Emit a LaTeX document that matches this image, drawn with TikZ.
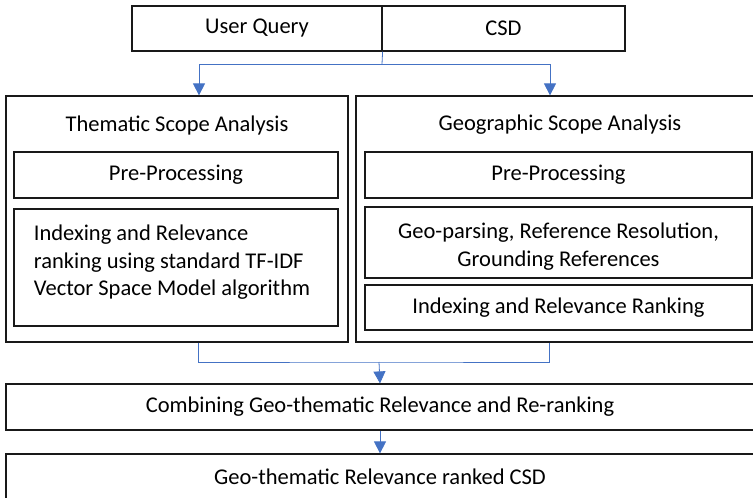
\documentclass[tikz,border=0pt]{standalone}
\usepackage{fontspec}
\usepackage{xcolor}
\setmainfont{Carlito}
\usetikzlibrary{arrows.meta}
\definecolor{flowblue}{RGB}{68,114,196}
\definecolor{edge}{RGB}{25,25,25}
\tikzstyle{box}=[rectangle, draw=edge, line width=1.2pt, inner sep=0pt, font=\fontsize{22.5}{27.5}\selectfont]
\tikzset{link/.style={draw=flowblue, line width=0.8pt}}
\tikzset{flow/.style={link, -{Triangle[length=12pt,width=12pt]}}}

\begin{document}
\begin{tikzpicture}[x=1pt,y=-1pt]
  \useasboundingbox (0,0) rectangle (753,498);
  \clip (0,0) rectangle (753,498);

  %% Inputs
  \draw (257,28.5) node[box,minimum width=250,minimum height=45] (query) {User Query};
  \draw (503.5,28.5) node[box,minimum width=243,minimum height=45] (csd) {CSD};

  %% Two scope analyses
  \draw (177,219) node[box,minimum width=342,minimum height=246] (thematic) {};
  \draw (560,219) node[box,minimum width=408,minimum height=246] (geographic) {};
  \draw (177,125) node[font=\fontsize{22.5}{27.5}\selectfont] (ttitle) {Thematic Scope Analysis};
  \draw (560,125) node[font=\fontsize{22.5}{27.5}\selectfont] (gtitle) {Geographic Scope Analysis};

  \draw (176,175) node[box,minimum width=324,minimum height=46] (tpre) {Pre-Processing};
  \draw (176,267.5) node[box,minimum width=324,minimum height=117,
    label={[align=left,xshift=-4,yshift=5,font=\fontsize{22.5}{27.5}\selectfont]center:Indexing and Relevance\\ranking using standard TF-IDF\\Vector Space Model algorithm}] (tidx) {};

  \draw (558.5,175) node[box,minimum width=387,minimum height=46] (gpre) {Pre-Processing};
  \draw (558.5,242.5) node[box,minimum width=387,minimum height=71,
    label={[align=center,yshift=-4,font=\fontsize{22.5}{27.5}\selectfont]center:Geo-parsing, Reference Resolution,\\Grounding References}] (ggeo) {};
  \draw (558.5,307.5) node[box,minimum width=387,minimum height=45] (gidx) {Indexing and Relevance Ranking};

  %% Outputs
  \draw (380,407) node[box,minimum width=748,minimum height=46] (combine) {Combining Geo-thematic Relevance and Re-ranking};
  \draw (380,477) node[box,minimum width=748,minimum height=46] (result) {Geo-thematic Relevance ranked CSD};

  %% Connectors
  \coordinate (split) at (382,64);
  \coordinate (merge) at (379,362);
  \draw[link] (query.south east) -- (split);
  \draw[flow] (split) -| ([xshift=22]thematic.north);
  \draw[flow] (split) -| ([xshift=-10]geographic.north);
  \draw[link] ([xshift=21]thematic.south) |- (merge) -| ([xshift=-11]geographic.south);
  \draw[flow] (merge) -- (combine.north);
  \draw[flow] (combine.south) -- (result.north);
\end{tikzpicture}
\end{document}
